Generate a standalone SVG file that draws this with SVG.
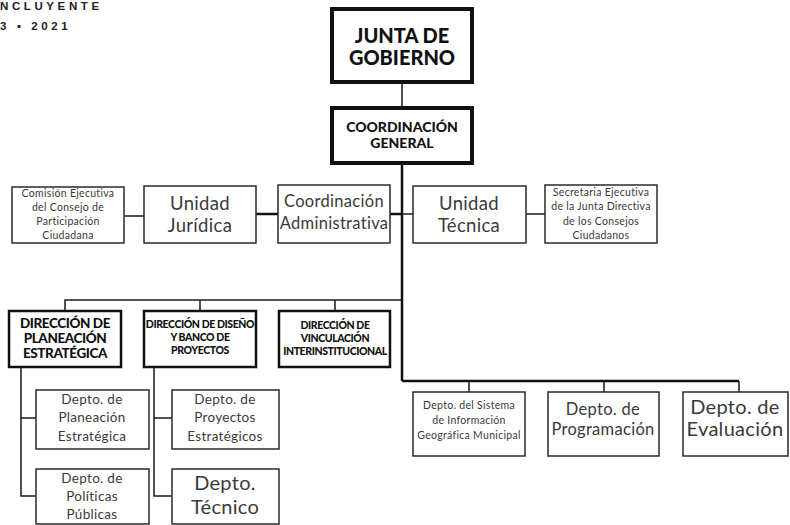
<svg xmlns="http://www.w3.org/2000/svg" width="790" height="525" viewBox="0 0 790 525">
<style>
.bg{fill:#fff}
.thick{fill:#fff;stroke:#111;stroke-width:4}
.dir{fill:#fff;stroke:#111;stroke-width:2.5}
.box{fill:#fff;stroke:#2a2a2a;stroke-width:1.5}
.ln{fill:none;stroke:#1a1a1a;stroke-width:1.5}
.ln2{fill:none;stroke:#111;stroke-width:2.5}
text{font-family:Lato,"Noto Sans","Liberation Sans",sans-serif;text-anchor:middle;fill:#3a3a3a;letter-spacing:0.3px}
.hd{font-weight:900;fill:#111;letter-spacing:0}
.db{font-weight:900;fill:#111;letter-spacing:-0.4px}
.top{font-family:"Liberation Sans",Arial,sans-serif;font-weight:bold;fill:#222;text-anchor:start;letter-spacing:3.6px;font-size:11.5px}
</style>
<rect class="bg" x="0" y="0" width="790" height="525"/>
<text class="top" x="0" y="10">NCLUYENTE</text>
<text class="top" x="0" y="30">3 ▪ 2021</text>

<g id="connectors">
<path class="ln" d="M402 83V106"/>
<path class="ln2" d="M402 164V381"/>
<path class="ln" d="M124 216H144"/>
<path class="ln2" d="M256 214H278"/>
<path class="ln2" d="M390 214H402"/>
<path class="ln" d="M402 214H413"/>
<path class="ln" d="M526 214H545"/>
<path class="ln" d="M402 300H65V311M200 300V311M335 300V311"/>
<path class="ln2" d="M402 381H739"/>
<path class="ln" d="M469 381V392M604 381V392M739 381V392"/>
<path class="ln" d="M21 367V496H36M21 418H36"/>
<path class="ln" d="M154 367V496H172M154 418H172"/>
</g>

<g id="junta">
<rect class="thick" x="332" y="9" width="140" height="73"/>
<text class="hd" x="402" y="43" font-size="20">JUNTA DE</text>
<text class="hd" x="402" y="65" font-size="20">GOBIERNO</text>
</g>
<g id="coord-general">
<rect class="thick" x="332" y="108" width="140" height="55"/>
<text class="hd" x="402" y="132" font-size="14">COORDINACIÓN</text>
<text class="hd" x="402" y="148" font-size="14">GENERAL</text>
</g>

<g id="comision">
<rect class="box" x="12" y="187" width="112" height="56"/>
<text x="68" y="197" font-size="10.5">Comisión Ejecutiva</text>
<text x="68" y="211" font-size="10.5">del Consejo de</text>
<text x="68" y="225" font-size="10.5">Participación</text>
<text x="68" y="239" font-size="10.5">Ciudadana</text>
</g>
<g id="juridica">
<rect class="box" x="144" y="186" width="112" height="57"/>
<text x="200" y="210" font-size="18.5">Unidad</text>
<text x="200" y="232" font-size="18.5">Jurídica</text>
</g>
<g id="coord-admin">
<rect class="box" x="278" y="185" width="112" height="58"/>
<text x="334" y="207" font-size="16.5" letter-spacing="0.2">Coordinación</text>
<text x="334" y="229" font-size="16.5" letter-spacing="0.2">Administrativa</text>
</g>
<g id="tecnica">
<rect class="box" x="413" y="186" width="113" height="57"/>
<text x="469" y="210" font-size="18.5">Unidad</text>
<text x="469" y="232" font-size="18.5">Técnica</text>
</g>
<g id="secretaria">
<rect class="box" x="545" y="185" width="112" height="58"/>
<text x="601" y="196" font-size="10.5">Secretaria Ejecutiva</text>
<text x="601" y="210" font-size="10.5">de la Junta Directiva</text>
<text x="601" y="225" font-size="10.5">de los Consejos</text>
<text x="601" y="239" font-size="10.5">Ciudadanos</text>
</g>

<g id="dir-planeacion">
<rect class="dir" x="9" y="311" width="112" height="56"/>
<text class="db" x="65" y="328" font-size="13.5">DIRECCIÓN DE</text>
<text class="db" x="65" y="343" font-size="13.5">PLANEACIÓN</text>
<text class="db" x="65" y="358" font-size="13.5">ESTRATÉGICA</text>
</g>
<g id="dir-diseno">
<rect class="dir" x="144" y="311" width="112" height="56"/>
<text class="db" x="200" y="328" font-size="10.5">DIRECCIÓN DE DISEÑO</text>
<text class="db" x="200" y="341" font-size="10.5">Y BANCO DE</text>
<text class="db" x="200" y="354" font-size="10.5">PROYECTOS</text>
</g>
<g id="dir-vinculacion">
<rect class="dir" x="279" y="311" width="111" height="56"/>
<text class="db" x="335" y="329" font-size="10.5">DIRECCIÓN DE</text>
<text class="db" x="335" y="342" font-size="10.5">VINCULACIÓN</text>
<text class="db" x="335" y="355" font-size="10.5">INTERINSTITUCIONAL</text>
</g>

<g id="depto-planeacion">
<rect class="box" x="36" y="390" width="113" height="59"/>
<text x="92" y="404" font-size="13.5" letter-spacing="0.6">Depto. de</text>
<text x="92" y="422" font-size="13.5" letter-spacing="0.6">Planeación</text>
<text x="92" y="441" font-size="13.5" letter-spacing="0.6">Estratégica</text>
</g>
<g id="depto-politicas">
<rect class="box" x="36" y="469" width="113" height="55"/>
<text x="92" y="483" font-size="13.5" letter-spacing="0.6">Depto. de</text>
<text x="92" y="501" font-size="13.5" letter-spacing="0.6">Políticas</text>
<text x="92" y="519" font-size="13.5" letter-spacing="0.6">Públicas</text>
</g>
<g id="depto-proyectos">
<rect class="box" x="172" y="390" width="107" height="59"/>
<text x="225" y="404" font-size="13.5" letter-spacing="0.6">Depto. de</text>
<text x="225" y="422" font-size="13.5" letter-spacing="0.6">Proyectos</text>
<text x="225" y="441" font-size="13.5" letter-spacing="0.6">Estratégicos</text>
</g>
<g id="depto-tecnico">
<rect class="box" x="172" y="469" width="107" height="55"/>
<text x="225" y="490" font-size="20">Depto.</text>
<text x="225" y="514" font-size="20">Técnico</text>
</g>

<g id="depto-sig">
<rect class="box" x="413" y="392" width="112" height="64"/>
<text x="469" y="409" font-size="10.5">Depto. del Sistema</text>
<text x="469" y="424" font-size="10.5">de Información</text>
<text x="469" y="439" font-size="10.5">Geográfica Municipal</text>
</g>
<g id="depto-programacion">
<rect class="box" x="548" y="392" width="111" height="64"/>
<text x="603" y="415" font-size="16.5">Depto. de</text>
<text x="603" y="435" font-size="16.5">Programación</text>
</g>
<g id="depto-evaluacion">
<rect class="box" x="683" y="392" width="105" height="64"/>
<text x="735" y="414" font-size="20">Depto. de</text>
<text x="735" y="436" font-size="20">Evaluación</text>
</g>
</svg>
